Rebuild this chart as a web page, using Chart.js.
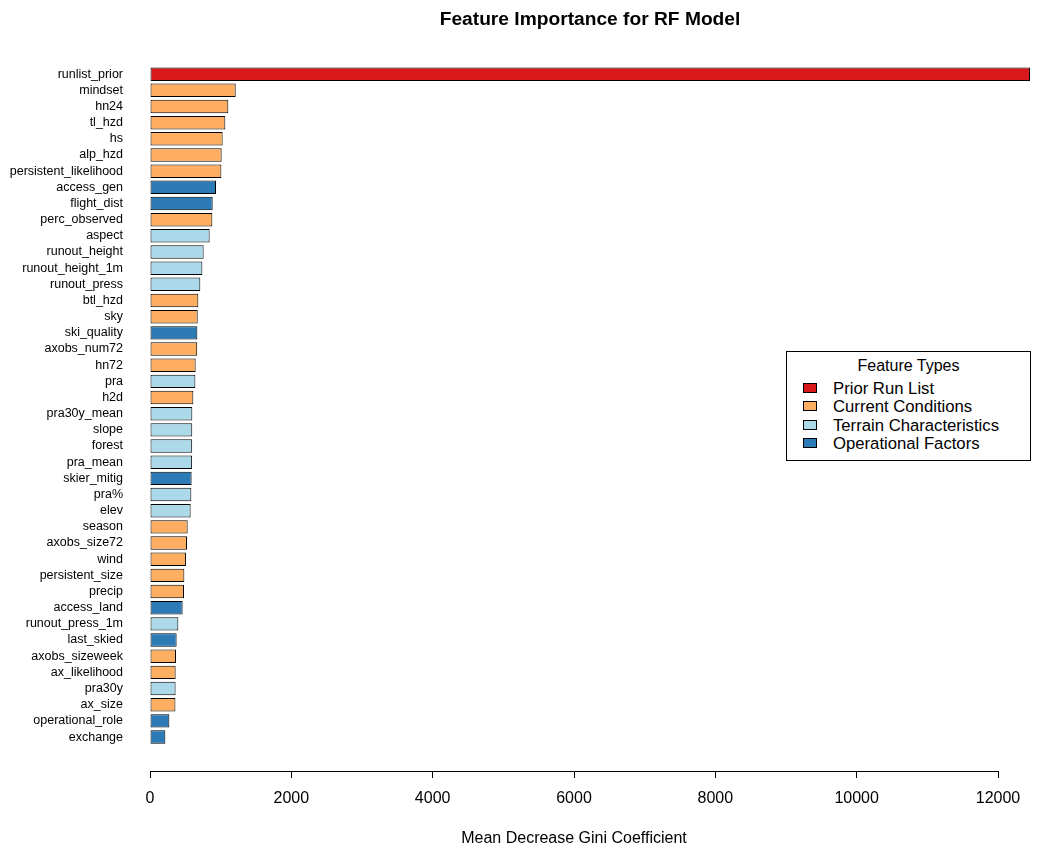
<!DOCTYPE html>
<html>
<head>
<meta charset="utf-8">
<script src="https://cdn.jsdelivr.net/npm/chart.js@4"></script>
<style>
  body { margin: 0; background: #fff; }
  #wrap { position: relative; width: 1041px; height: 854px; }
  #legend {
    position: absolute; left: 786px; top: 351px; width: 243px; height: 108px;
    border: 1px solid #000; background: #fff;
    font-family: 'Liberation Sans', Arial, sans-serif; font-size: 16px; color: #000;
  }
  #legend .title { position: absolute; left: 0; right: 0; top: 4px; text-align: center; line-height: 19px; }
  #legend .row { position: absolute; left: 16px; line-height: 19px; white-space: nowrap; font-size: 16.7px; }
  #legend .sw { display: inline-block; width: 12px; height: 8px; border: 1px solid #000; margin-right: 16px; vertical-align: 1px; }
</style>
</head>
<body>
<div id="wrap">
  <canvas id="myChart" width="1041" height="854"></canvas>
  <div id="legend"><div class="title">Feature Types</div></div>
</div>
<script>
// feature names, top to bottom
const features = [
  'runlist_prior', 'mindset', 'hn24', 'tl_hzd', 'hs', 'alp_hzd', 'persistent_likelihood',
  'access_gen', 'flight_dist', 'perc_observed', 'aspect', 'runout_height', 'runout_height_1m',
  'runout_press', 'btl_hzd', 'sky', 'ski_quality', 'axobs_num72', 'hn72', 'pra', 'h2d',
  'pra30y_mean', 'slope', 'forest', 'pra_mean', 'skier_mitig', 'pra%', 'elev', 'season',
  'axobs_size72', 'wind', 'persistent_size', 'precip', 'access_land', 'runout_press_1m',
  'last_skied', 'axobs_sizeweek', 'ax_likelihood', 'pra30y', 'ax_size', 'operational_role',
  'exchange'
];

// Mean Decrease Gini
const importance = [
  12453, 1213, 1108, 1066, 1028, 1014, 1010,
  934, 887, 882, 844, 759, 741,
  712, 684, 675, 670, 668, 646, 642, 613,
  599, 598, 597, 596, 589, 585, 575, 533,
  524, 509, 486, 481, 462, 401,
  377, 368, 363, 362, 360, 274,
  217
];

// 0 = prior run list, 1 = current conditions, 2 = terrain, 3 = operational
const featureType = [
  0, 1, 1, 1, 1, 1, 1,
  3, 3, 1, 2, 2, 2,
  2, 1, 1, 3, 1, 1, 2, 1,
  2, 2, 2, 2, 3, 2, 2, 1,
  1, 1, 1, 1, 3, 2,
  3, 1, 1, 2, 1, 3,
  3
];

const typeNames = ['Prior Run List', 'Current Conditions', 'Terrain Characteristics', 'Operational Factors'];
const typeColors = ['#D7191C', '#FDAE61', '#ABD9E9', '#2C7BB6'];

const xTicks = [0, 2000, 4000, 6000, 8000, 10000, 12000];

const font = "'Liberation Sans', Arial, Helvetica, sans-serif";

// legend (html)
const legend = document.getElementById('legend');
typeNames.forEach((name, i) => {
  const row = document.createElement('div');
  row.className = 'row';
  row.style.top = (27 + i * 18.4) + 'px';
  row.innerHTML = '<span class="sw" style="background:' + typeColors[i] + '"></span>' + name;
  legend.appendChild(row);
});

// centre the title over the plot region (axis start to end of longest bar), like R does
const titleOverPlot = {
  id: 'titleOverPlot',
  afterLayout(chart) {
    const t = chart.titleBlock;
    if (!t) return;
    t.left = chart.chartArea.left;
    t.right = chart.scales.x.getPixelForValue(importance[0]);
  }
};

const data = {
  datasets: [
    {
      label: 'Importance',
      data: importance.map((v, i) => ({ x: v, y: i })),
      backgroundColor: featureType.map(t => typeColors[t]),
      borderColor: '#000',
      borderWidth: 1,
      borderSkipped: false,
      categoryPercentage: 1,
      barPercentage: 1 / 1.2,
      clip: false,
    }
  ]
};

const config = {
  type: 'bar',
  data: data,
  plugins: [titleOverPlot],
  options: {
    responsive: false,
    animation: false,
    indexAxis: 'y',
    layout: { padding: { left: 0, right: 43, top: 0, bottom: 0 } },
    scales: {
      x: {
        type: 'linear',
        min: 0,
        max: 12000,
        afterBuildTicks: scale => { scale.ticks = xTicks.map(v => ({ value: v })); },
        afterFit: scale => { scale.height = 83; },
        grid: { drawOnChartArea: false, color: '#000', tickLength: 7 },
        border: { display: true, color: '#000', width: 1 },
        ticks: {
          color: '#000',
          font: { family: font, size: 16 },
          padding: 11,
          maxRotation: 0,
          callback: v => String(v)
        },
        title: {
          display: true,
          text: 'Mean Decrease Gini Coefficient',
          color: '#000',
          font: { family: font, size: 16 },
          padding: { top: 0, bottom: 6 }
        }
      },
      y: {
        type: 'linear',
        reverse: true,
        offset: false,
        bounds: 'data',
        min: -2.05,
        max: 43.1,
        // one tick per feature
        afterBuildTicks: scale => { scale.ticks = features.map((f, i) => ({ value: i })); },
        afterFit: scale => {
          scale.width = 150;
          scale.paddingTop = 0;
          scale.paddingBottom = 0;
        },
        grid: { display: false, drawTicks: false },
        border: { display: false },
        ticks: {
          autoSkip: false,
          padding: 27,
          color: '#000',
          font: { family: font, size: 12.5 },
          callback: v => features[v] !== undefined ? features[v] : ''
        }
      }
    },
    plugins: {
      legend: { display: false },
      tooltip: { enabled: false },
      title: {
        display: true,
        text: 'Feature Importance for RF Model',
        color: '#000',
        font: { family: font, size: 19.2, weight: 'bold' },
        padding: { top: 8.5, bottom: 9.5 }
      }
    }
  }
};

new Chart(document.getElementById('myChart'), config);
</script>
</body>
</html>
